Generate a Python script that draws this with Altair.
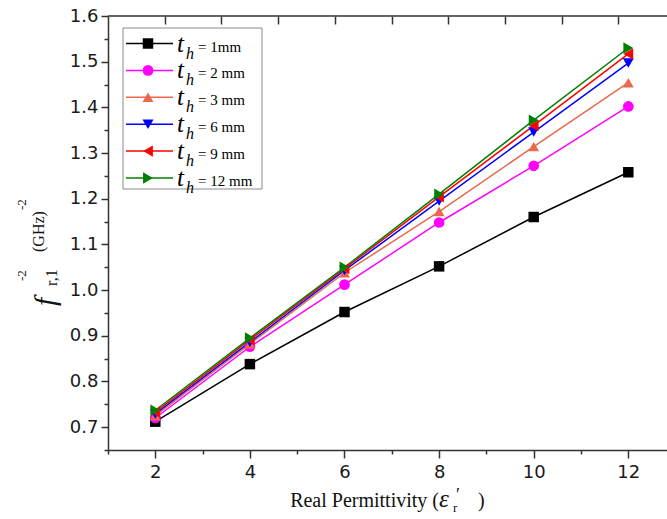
import altair as alt
import pandas as pd

# ---------------- data ----------------
eps = [2, 4, 6, 8, 10, 12]
series_names = ["1mm", "2 mm", "3 mm", "6 mm", "9 mm", "12 mm"]
t1 = [0.712, 0.838, 0.952, 1.052, 1.160, 1.258]
t2 = [0.720, 0.876, 1.012, 1.148, 1.272, 1.402]
t3 = [0.725, 0.882, 1.038, 1.172, 1.314, 1.454]
t6 = [0.729, 0.886, 1.043, 1.195, 1.346, 1.497]
t9 = [0.733, 0.891, 1.047, 1.204, 1.360, 1.517]
t12 = [0.737, 0.895, 1.050, 1.210, 1.372, 1.530]
all_series = [t1, t2, t3, t6, t9, t12]

colors = ["#000000", "#FF00FF", "#E8694D", "#0000FF", "#FF0000", "#008000"]
shapes = ["square", "circle", "triangle-up", "triangle-down", "triangle-left", "triangle-right"]
marker_sizes = [110, 130, 160, 160, 160, 160]

y_major = [0.7, 0.8, 0.9, 1.0, 1.1, 1.2, 1.3, 1.4, 1.5, 1.6]
y_minor = [0.65, 0.75, 0.85, 0.95, 1.05, 1.15, 1.25, 1.35, 1.45, 1.55]
x_ticks = [1, 2, 3, 4, 5, 6, 7, 8, 9, 10, 11, 12]
top_ticks = [1, 2, 3, 4, 5, 6, 7, 8, 9]

rows = []
for name, vals in zip(series_names, all_series):
    for e, v in zip(eps, vals):
        rows.append({"eps": e, "f": v, "series": name})
df = pd.DataFrame(rows)

leg = pd.DataFrame({
    "row": list(range(len(series_names))),
    "series": series_names,
    "t": ["t"] * len(series_names),
    "h": ["h"] * len(series_names),
    "rest": ["= " + s for s in series_names],
})

# ---------------- layout constants (pixels) ----------------
# the reference is cropped on the right: the plot runs past the picture edge,
# so the plot is made wider than the canvas and a negative right padding clips it
W, H = 570, 434
PL, PT = 108, 16
PR = 667 - PL - W
px_per_unit_x = 47.3
x_dom = [1, 1 + W / px_per_unit_x]

color_scale = alt.Scale(domain=series_names, range=colors)
shape_scale = alt.Scale(domain=series_names, range=shapes)
size_scale = alt.Scale(domain=series_names, range=marker_sizes)

SERIF = "Liberation Serif"
SANS = "DejaVu Sans"
AX = "#333333"

x_enc = alt.X(
    "eps:Q",
    scale=alt.Scale(domain=x_dom, nice=False, zero=False),
    axis=alt.Axis(
        orient="bottom", values=x_ticks, title=None, grid=False,
        labelExpr="datum.value % 2 == 0 ? datum.label : ''",
        tickSize={"condition": {"test": "datum.value % 2 == 0", "value": 8}, "value": 4},
        tickColor=AX, tickWidth=1.5, domainColor=AX, domainWidth=1.5,
        labelFont=SANS, labelFontSize=18, labelColor="#1a1a1a", labelPadding=5,
    ),
)
y_enc = alt.Y(
    "f:Q",
    scale=alt.Scale(domain=[0.65, 1.6], nice=False, zero=False),
    axis=alt.Axis(
        orient="left", values=sorted(y_major + y_minor), title=None, grid=False,
        labelExpr="abs(datum.value*10 - round(datum.value*10)) < 0.001 ? format(datum.value, '.1f') : ''",
        tickSize={"condition": {"test": "abs(datum.value*10 - round(datum.value*10)) < 0.001", "value": 7}, "value": 4},
        tickColor=AX, tickWidth=1.5, domainColor=AX, domainWidth=1.5,
        labelFont=SANS, labelFontSize=18, labelColor="#1a1a1a", labelPadding=3,
    ),
)

color_enc = alt.Color("series:N", scale=color_scale, legend=None)
shape_enc = alt.Shape("series:N", scale=shape_scale, legend=None)
size_enc = alt.Size("series:N", scale=size_scale, legend=None)

base = alt.Chart(df)
lines = base.mark_line(strokeWidth=1.5).encode(
    x=x_enc, y=y_enc, color=color_enc, detail="series:N",
)
points = base.mark_point(filled=True, opacity=1).encode(
    x=x_enc, y=y_enc, color=color_enc, shape=shape_enc, size=size_enc,
)
main = alt.layer(lines, points)

# ---------------- manual legend ----------------
row_y = alt.Y("row:Q", scale=alt.Scale(domain=[0, 5], range=[43.5 - PT, 178 - PT]), axis=None)
lb = alt.Chart(leg)
box = alt.Chart(pd.DataFrame({"a": [0]})).mark_rect(
    fill="white", stroke="#8a8a8a", strokeWidth=1
).encode(
    x=alt.value(123 - PL), x2=alt.value(262 - PL),
    y=alt.value(28 - PT), y2=alt.value(189 - PT),
)
leg_lines = lb.mark_rule(strokeWidth=1.5).encode(
    x=alt.value(126 - PL), x2=alt.value(173 - PL), y=row_y, color=color_enc,
)
leg_pts = lb.mark_point(filled=True, opacity=1).encode(
    x=alt.value(148 - PL), y=row_y, color=color_enc, shape=shape_enc, size=size_enc,
)
leg_t = lb.mark_text(font=SERIF, fontStyle="italic", fontSize=25, align="left",
                     baseline="alphabetic", dy=8, color="#000").encode(
    x=alt.value(177 - PL), y=row_y, text="t:N")
leg_h = lb.mark_text(font=SERIF, fontStyle="italic", fontSize=16, align="left",
                     baseline="alphabetic", dy=15, color="#000").encode(
    x=alt.value(186 - PL), y=row_y, text="h:N")
leg_r = lb.mark_text(font=SERIF, fontSize=15, align="left",
                     baseline="alphabetic", dy=8, color="#000").encode(
    x=alt.value(198 - PL), y=row_y, text="rest:N")
legend = alt.layer(box, leg_lines, leg_pts, leg_t, leg_h, leg_r)

# ---------------- top frame line and its ticks ----------------
top_axis = alt.Chart(pd.DataFrame({"v": [0]})).mark_point(opacity=0).encode(
    x=alt.X("v:Q", scale=alt.Scale(domain=[0, W / 56.7], nice=False, zero=False),
            axis=alt.Axis(orient="top", values=top_ticks, labels=False, title=None,
                          grid=False, domain=False, tickSize=8, offset=-8,
                          tickColor=AX, tickWidth=1.5)),
)
top_line = alt.Chart(pd.DataFrame({"a": [0]})).mark_rule(color=AX, strokeWidth=1.5).encode(
    x=alt.value(0), x2=alt.value(W), y=alt.value(0)
)

# ---------------- axis titles as text pieces ----------------
def txt(s, x, y, size, italic=False, angle=0, align="left"):
    kw = dict(font=SERIF, fontSize=size, align=align, baseline="alphabetic",
              color="#111", angle=angle)
    if italic:
        kw["fontStyle"] = "italic"
    return alt.Chart(pd.DataFrame({"s": [s]})).mark_text(**kw).encode(
        x=alt.value(x - PL), y=alt.value(y - PT), text="s:N")

titles = [
    txt("Real Permittivity (", 439, 507, 20, align="right"),
    txt("ε", 439, 507, 25, italic=True),
    txt("′", 456, 501, 18),
    txt("r", 453, 512, 13),
    txt(")", 478, 507, 20),
    txt("f", 55, 306, 30, italic=True, angle=270),
    txt("r,1", 57, 286, 16, angle=270),
    txt("-2", 26, 281, 13, angle=270),
    txt("(GHz)", 44, 252, 16, angle=270),
    txt("-2", 26, 210, 13, angle=270),
]

chart = alt.layer(main, legend, top_axis, top_line, *titles).resolve_scale(
    x="independent", y="independent"
).properties(
    width=W, height=H, autosize="none",
    padding={"left": PL, "top": PT, "right": PR, "bottom": 519 - PT - H - 4},
    background="white",
).configure_view(
    stroke="transparent", strokeWidth=0
).configure_axis(grid=False)

chart.save("out.html", embed_options={"renderer": "svg", "actions": False})
